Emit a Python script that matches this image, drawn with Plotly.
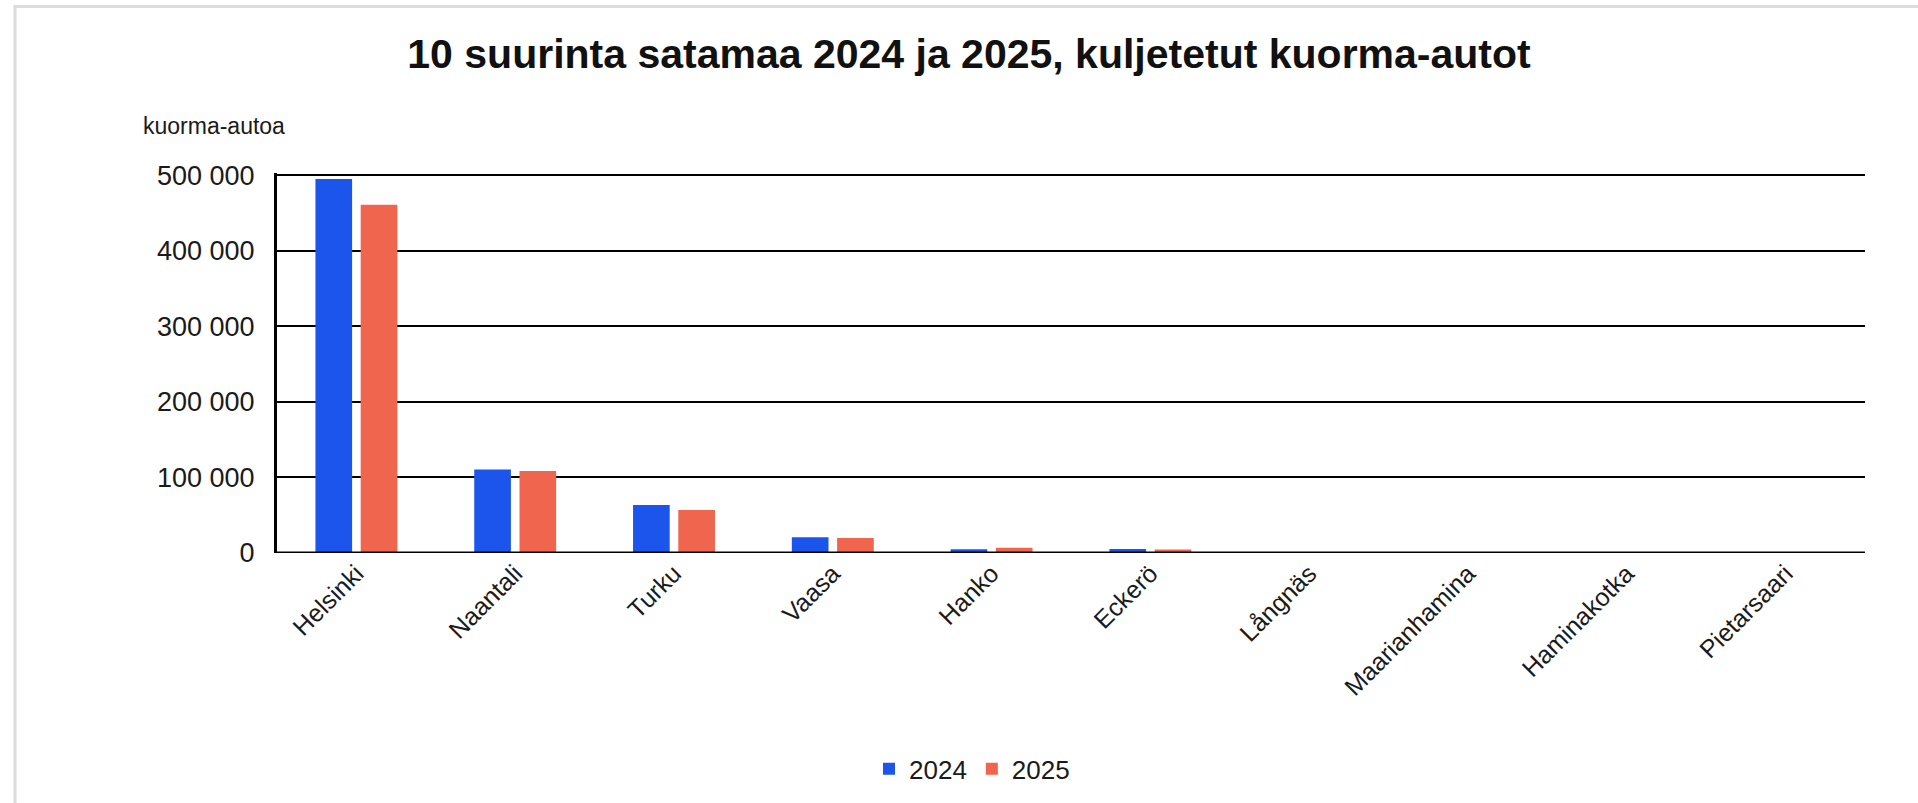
import plotly.graph_objects as go

ports = ["Helsinki", "Naantali", "Turku", "Vaasa", "Hanko", "Eckerö",
         "Långnäs", "Maarianhamina", "Haminakotka", "Pietarsaari"]
trucks_2024 = [495000, 110500, 63500, 21000, 5000, 5200, 200, 150, 100, 100]
trucks_2025 = [461000, 108500, 57000, 20000, 7000, 4500, 200, 150, 100, 100]
ytick_vals = [0, 100000, 200000, 300000, 400000, 500000]
y_max = 503000

W, H = 1918, 803
L, R, B = 277, 1865, 553
T = B - 378 * y_max / 500000

def px(x):
    return (x - L) / (R - L)

def py(y):
    return (B - y) / (B - T)

fig = go.Figure()
fig.add_trace(go.Bar(name="2024", x=ports, y=trucks_2024, marker_color="#1c55eb",
                     marker_line_width=0))
fig.add_trace(go.Bar(name="2025", x=ports, y=trucks_2025, marker_color="#f0654e",
                     marker_line_width=0))

font = "Liberation Sans, Arial, sans-serif"
txt = "#1a1a1a"
fig.update_layout(
    width=W, height=H,
    margin=dict(l=L, r=W - R, t=T, b=H - B, autoexpand=False),
    paper_bgcolor="white", plot_bgcolor="white",
    barmode="group", bargap=0.43, bargroupgap=0.19,
    font=dict(family=font, size=26, color=txt),
    title=dict(text="<b>10 suurinta satamaa 2024 ja 2025, kuljetetut kuorma-autot</b>",
               x=969 / W, xref="container", xanchor="center",
               y=1 - 54 / H, yref="container", yanchor="middle",
               font=dict(family=font, size=41, color="#111111")),
    showlegend=True,
    legend=dict(orientation="h", x=px(972), y=py(769), xanchor="center", yanchor="middle",
                font=dict(family=font, size=26, color=txt), itemwidth=30,
                tracegroupgap=0),
    xaxis=dict(tickangle=-45, showgrid=False, ticks="", showline=False,
               tickfont=dict(family=font, size=25, color=txt)),
    yaxis=dict(range=[0, y_max], tickvals=ytick_vals, tickformat=",d",
               showgrid=True, gridcolor="black", gridwidth=2,
               zeroline=False,
               showline=True, linecolor="black", linewidth=3,
               ticks="", ticklabelstandoff=14,
               tickfont=dict(family=font, size=27, color=txt)),
    separators=". ",
    annotations=[dict(text="kuorma-autoa", xref="paper", yref="paper",
                      x=px(141), y=py(126), xanchor="left", yanchor="middle",
                      showarrow=False, font=dict(family=font, size=23, color=txt))],
    shapes=[
        dict(type="rect", xref="paper", yref="paper",
             x0=px(15), x1=px(1940), y0=py(830), y1=py(6),
             line=dict(color="#dcdcdc", width=3), layer="below"),
        dict(type="line", xref="paper", yref="y", x0=0, x1=1, y0=0, y1=0,
             line=dict(color="black", width=3), layer="above"),
    ],
)

fig.write_html("out.html", config={"displayModeBar": False},
               post_script="document.body.style.margin='0';document.body.style.overflow='hidden';")
